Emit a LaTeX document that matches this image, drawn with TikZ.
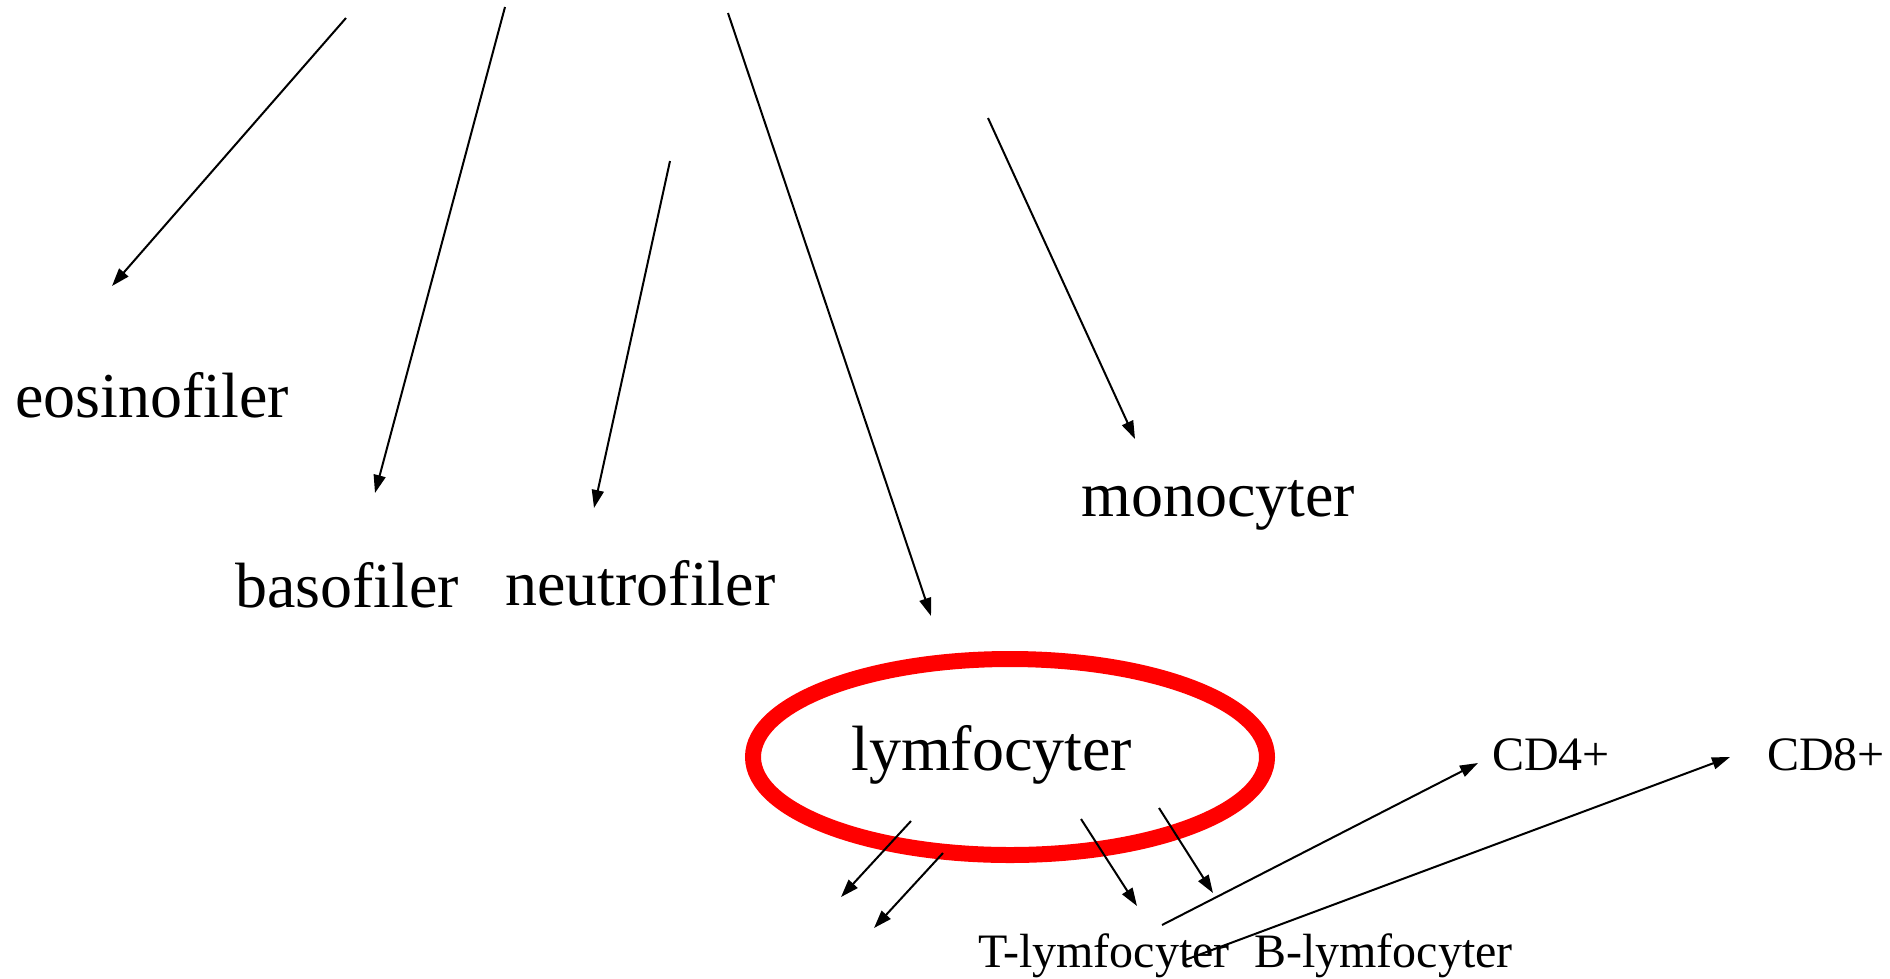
\documentclass[tikz,border=0pt]{standalone}
\usepackage{fontspec}
\setmainfont{Liberation Serif}
\usetikzlibrary{arrows.meta}
\tikzset{
  big/.style={inner sep=0pt, anchor=base west, font=\fontsize{64}{70}\selectfont},
  small/.style={inner sep=0pt, anchor=base west, font=\fontsize{48}{54}\selectfont},
  arr/.style={line width=2pt, -{Triangle[length=18pt,width=12pt]}},
  ring/.style={draw=red, line width=16pt}
}
\begin{document}
\begin{tikzpicture}[x=1pt,y=-1pt]
\useasboundingbox (0,0) rectangle (1890,978);
% labels
\node[big] (eos) at (15,417) {eosinofiler};
\node[big] (baso) at (235,607) {basofiler};
\node[big] (neut) at (505,605) {neutrofiler};
\node[big] (mono) at (1081,516) {monocyter};
\node[big] (lym) at (851,770) {lymfocyter};
\node[small] (cd4) at (1492,770) {CD4+};
\node[small] (cd8) at (1767,770) {CD8+};
\node[small] (tl) at (978,967) {T-lymfocyter};
\node[small] (bl) at (1254,967) {B-lymfocyter};
% ring
\draw[ring] (1010,757) ellipse [x radius=257, y radius=98];
% coordinates
\coordinate (s1) at (346,18);   \coordinate (e1) at (112,286);
\coordinate (s2) at (505,7);    \coordinate (e2) at (375,493);
\coordinate (s3) at (670,161);  \coordinate (e3) at (594,508);
\coordinate (s4) at (728,13);   \coordinate (e4) at (931,616);
\coordinate (s5) at (988,118);  \coordinate (e5) at (1135,439);
\coordinate (s6) at (911,821);  \coordinate (e6) at (841,897);
\coordinate (s7) at (943,853);  \coordinate (e7) at (874,928);
\coordinate (s8) at (1081,819); \coordinate (e8) at (1137,906);
\coordinate (s9) at (1159,808); \coordinate (e9) at (1213,893);
\coordinate (s10) at (1162,925); \coordinate (e10) at (1478,763);
\coordinate (s11) at (1185,960); \coordinate (e11) at (1730,757);
% arrows
\draw[arr] (s1) -- (e1);
\draw[arr] (s2) -- (e2);
\draw[arr] (s3) -- (e3);
\draw[arr] (s4) -- (e4);
\draw[arr] (s5) -- (e5);
\draw[arr] (s6) -- (e6);
\draw[arr] (s7) -- (e7);
\draw[arr] (s8) -- (e8);
\draw[arr] (s9) -- (e9);
\draw[arr] (s10) -- (e10);
\draw[arr] (s11) -- (e11);
\end{tikzpicture}
\end{document}
